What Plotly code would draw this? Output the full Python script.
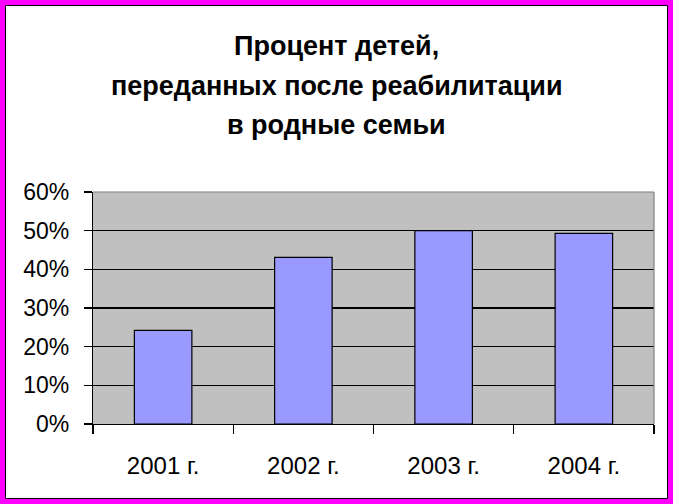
import plotly.graph_objects as go

years = ["2001 г.", "2002 г.", "2003 г.", "2004 г."]
percent = [0.242, 0.431, 0.50, 0.493]
title_lines = ["Процент детей,", "переданных после реабилитации", "в родные семьи"]
y_ticks = [0, 0.1, 0.2, 0.3, 0.4, 0.5, 0.6]

W, H = 673, 504
ML, MR, MT, MB = 93, 19, 192, 80
PW, PH = W - ML - MR, H - MT - MB


def px(x):
    return (x - ML) / PW


def py(y):
    return 1 - (y - MT) / PH


FONT = "Arial, 'Liberation Sans', sans-serif"

fig = go.Figure()
fig.add_trace(go.Bar(
    x=years, y=percent, width=0.41,
    marker=dict(color="#9999FF", line=dict(color="black", width=1.2)),
    hoverinfo="skip",
))

shapes = [
    dict(type="line", xref="paper", yref="paper", x0=0, x1=1, y0=1, y1=1,
         line=dict(color="#808080", width=1.2), layer="above"),
    dict(type="line", xref="paper", yref="paper", x0=1, x1=1, y0=0, y1=1,
         line=dict(color="#808080", width=1.2), layer="above"),
    dict(type="rect", xref="paper", yref="paper",
         x0=px(2.5), x1=px(W - 2.5), y0=py(H - 2.5), y1=py(2.5),
         line=dict(color="#FF00FF", width=6), layer="above"),
    dict(type="rect", xref="paper", yref="paper",
         x0=px(5.5), x1=px(W - 5.5), y0=py(H - 5.5), y1=py(5.5),
         line=dict(color="black", width=1), layer="above"),
]

line_y = [46, 86, 125]
annotations = [
    dict(text=t, xref="paper", yref="paper", x=px(W / 2), y=py(yy),
         xanchor="center", yanchor="middle", showarrow=False,
         font=dict(family=FONT, size=27, color="black", weight="bold"))
    for t, yy in zip(title_lines, line_y)
]

fig.update_layout(
    width=W, height=H,
    margin=dict(l=ML, r=MR, t=MT, b=MB),
    paper_bgcolor="white",
    plot_bgcolor="#C0C0C0",
    showlegend=False,
    shapes=shapes,
    annotations=annotations,
    font=dict(family=FONT, size=23, color="black"),
    xaxis=dict(
        showline=True, linecolor="black", linewidth=1.2,
        ticks="outside", ticklen=9, tickcolor="black", tickwidth=1.2,
        tickson="boundaries", showgrid=False,
        ticklabelstandoff=20,
        tickfont=dict(family=FONT, size=24, color="black"),
    ),
    yaxis=dict(
        range=[0, 0.6], tickvals=y_ticks, tickformat=".0%",
        showline=True, linecolor="black", linewidth=1.2,
        ticks="outside", ticklen=8, tickcolor="black", tickwidth=1.2,
        showgrid=True, gridcolor="black", gridwidth=1.2,
        zeroline=False,
        ticklabelstandoff=10,
        tickfont=dict(family=FONT, size=23, color="black"),
    ),
)

fig.write_html(
    "out.html",
    config={"displayModeBar": False, "staticPlot": True},
    post_script="document.body.style.margin='0';document.body.style.overflow='hidden';",
)
